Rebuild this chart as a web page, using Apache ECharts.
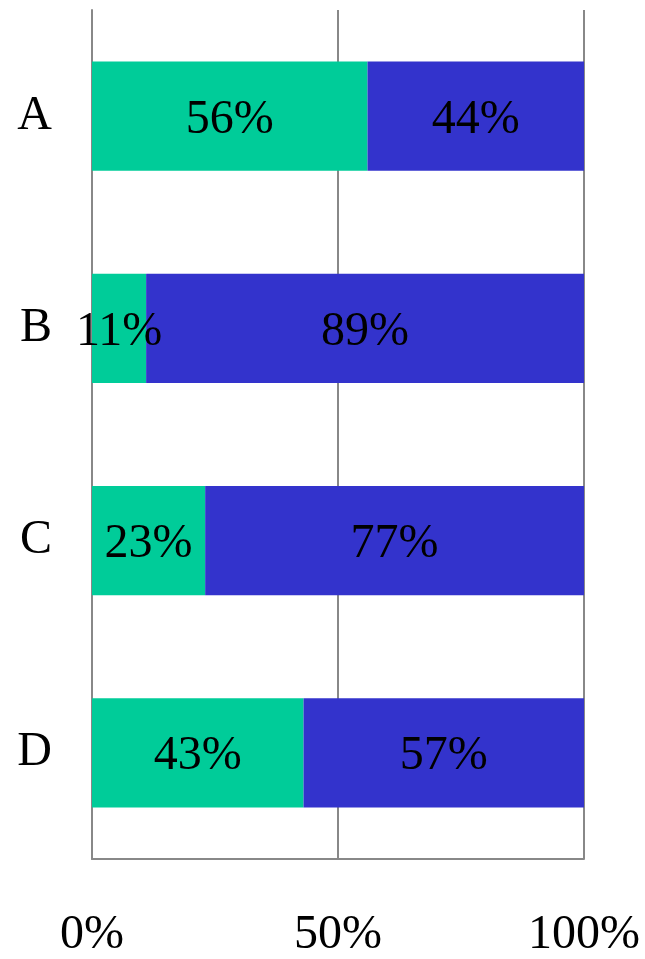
<!DOCTYPE html>
<html><head><meta charset="utf-8">
<script src="https://cdn.jsdelivr.net/npm/echarts@6/dist/echarts.min.js"></script>
<style>html,body{margin:0;padding:0;background:#fff}#c{width:645px;height:959px}</style>
</head><body><div id="c"></div>
<script>
const categories = ['A', 'B', 'C', 'D'];
const greenValues = [56, 11, 23, 43];
const blueValues = [44, 89, 77, 57];
const xTicks = [0, 50, 100];

const font = '"Liberation Serif", "DejaVu Serif", serif';
const chart = echarts.init(document.getElementById('c'), null, {renderer: 'canvas'});
const lbl = {show: true, position: 'inside', offset: [0, 4], formatter: p => p.value + '%', color: '#000', fontFamily: font, fontSize: 48};
chart.setOption({
  animation: false,
  grid: {left: 92, right: 61, top: 10, bottom: 95, containLabel: false},
  xAxis: {
    type: 'value', min: 0, max: 100, interval: 50,
    axisLine: {show: true, lineStyle: {color: '#888', width: 2}},
    axisTick: {show: false},
    splitLine: {show: true, lineStyle: {color: '#888', width: 2}},
    axisLabel: {formatter: v => v + '%', color: '#000', fontFamily: font, fontSize: 48, margin: 52}
  },
  yAxis: {
    type: 'category', data: categories, inverse: true,
    axisLine: {show: true, lineStyle: {color: '#888', width: 2}},
    axisTick: {show: false},
    axisLabel: {color: '#000', fontFamily: font, fontSize: 48, margin: 40}
  },
  series: [
    {type: 'bar', stack: 's', data: greenValues, itemStyle: {color: '#00CC99'}, barCategoryGap: '48.5%', label: lbl},
    {type: 'bar', stack: 's', data: blueValues, itemStyle: {color: '#3333CC'}, barCategoryGap: '48.5%', label: lbl}
  ]
});
</script></body></html>
